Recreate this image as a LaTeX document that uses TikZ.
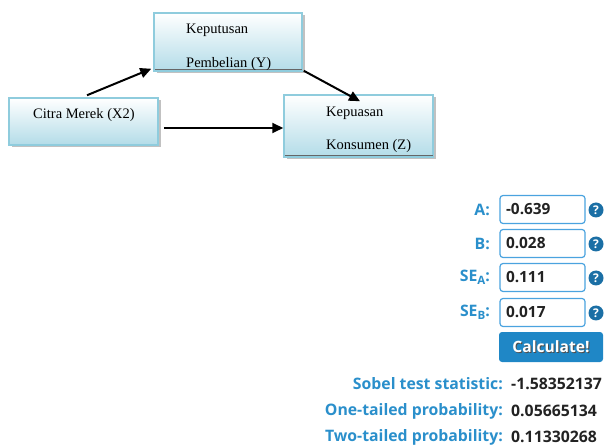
\documentclass[tikz,border=0pt]{standalone}
\usepackage{fontspec}
\setmainfont{Liberation Serif}
\newfontfamily\osans{Open Sans}
\usetikzlibrary{arrows.meta,shadows}
\definecolor{boxborder}{HTML}{8FCCDD}
\definecolor{boxfill}{HTML}{B3DCE8}
\definecolor{lblblue}{HTML}{2A8FCB}
\definecolor{fieldborder}{HTML}{4AA3DF}
\definecolor{qblue}{HTML}{1B6FA5}
\definecolor{btnblue}{HTML}{1F87C6}
\definecolor{valtext}{HTML}{222222}
\tikzset{
  diagbox/.style={draw=boxborder, line width=1.5pt, top color=white, bottom color=boxfill,
    drop shadow={shadow xshift=2.5pt, shadow yshift=-2.5pt, fill=black!30, opacity=0.8},
    inner sep=0pt},
  boxtext/.style={anchor=west, inner sep=0pt, font=\fontsize{14.5}{16}\selectfont},
  conn/.style={line width=2pt, -{Triangle[length=11pt,width=10pt]}},
  bline/.style={draw=black!60, line width=1pt},
  lbl/.style={anchor=east, inner sep=0pt, text=lblblue, font=\osans\bfseries\fontsize{15.8}{17}\selectfont},
  field/.style={draw=fieldborder, line width=1.2pt, rounded corners=3pt, fill=white,
    minimum height=28pt, text width=73pt, inner xsep=6pt, align=left,
    text=valtext, font=\osans\bfseries\fontsize{15.4}{17}\selectfont},
  qicon/.style={circle, fill=qblue, minimum size=15pt, inner sep=0pt, text=white,
    font=\osans\bfseries\fontsize{12}{12}\selectfont},
  val/.style={anchor=west, inner sep=0pt, text=valtext, font=\osans\bfseries\fontsize{15.8}{17}\selectfont},
  btntext/.style={inner sep=0pt, font=\osans\bfseries\fontsize{15.6}{17}\selectfont},
}
\begin{document}
\begin{tikzpicture}[x=1pt,y=-1pt]
\useasboundingbox (0,0) rectangle (605,446);
% diagram boxes
\node[diagbox, minimum width=148pt, minimum height=58pt] (kep) at (228,42) {};
\node[diagbox, minimum width=149pt, minimum height=47pt] (citra) at (83.5,121.5) {};
\node[diagbox, minimum width=149pt, minimum height=62pt] (kpu) at (358.5,126) {};
\draw[bline] ([xshift=2pt,yshift=2pt]kep.south west) -- ([xshift=-1pt,yshift=2pt]kep.south east);
\draw[bline] ([xshift=2pt,yshift=2pt]kpu.south west) -- ([xshift=-1pt,yshift=2pt]kpu.south east);
% texts
\node[boxtext] (t1) at (186,30) {Keputusan};
\node[boxtext] (t2) at (186,64) {Pembelian (Y)};
\node[boxtext] (t3) at (33,115) {Citra Merek (X2)};
\node[boxtext] (t4) at (326,113) {Kepuasan};
\node[boxtext] (t5) at (326,146) {Konsumen (Z)};
% connectors
\draw[conn] ([xshift=3.5pt,yshift=2pt]citra.north) -- ([xshift=-2pt,yshift=3pt]kep.south west);
\draw[conn] ([xshift=1pt,yshift=1pt]kep.south east) -- ([xshift=1.5pt,yshift=-7pt]kpu.north);
\coordinate (a3) at ([xshift=5pt,yshift=-6.5pt]citra.east);
\draw[conn] (a3) -- (a3 -| kpu.west);
% calculator panel
\node[lbl] (lA) at (490,209.5) {A:};
\node[lbl] (lB) at (490,243.5) {B:};
\node[lbl] (lSA) at (490,277.5) {SE\raisebox{-3pt}{\fontsize{11.5}{11.5}\selectfont A}:};
\node[lbl] (lSB) at (490,312.5) {SE\raisebox{-3pt}{\fontsize{11.5}{11.5}\selectfont B}:};
\node[field] (fA) at (542.5,209.5) {-0.639};
\node[field] (fB) at (542.5,243.5) {0.028};
\node[field] (fSA) at (542.5,277.5) {0.111};
\node[field] (fSB) at (542.5,312.5) {0.017};
\node[qicon] (qA) at (596,210) {?};
\node[qicon] (qB) at (596,244) {?};
\node[qicon] (qSA) at (596,278) {?};
\node[qicon] (qSB) at (596,313) {?};
\node[fill=btnblue, rounded corners=3pt, minimum width=104pt, minimum height=30pt, inner sep=0pt] (btn) at (551,347) {};
\node[btntext, text=black!70] (btnsh) at ([xshift=1pt,yshift=-1pt]btn.center) {Calculate!};
\node[btntext, text=white] (btntxt) at (btn.center) {Calculate!};
\node[lbl] (r1) at (503,384) {Sobel test statistic:};
\node[lbl] (r2) at (503,411) {One-tailed probability:};
\node[lbl] (r3) at (503,437) {Two-tailed probability:};
\node[val] (v1) at (511,384) {-1.58352137};
\node[val] (v2) at (511,411) {0.05665134};
\node[val] (v3) at (511,437) {0.11330268};
\end{tikzpicture}
\end{document}
